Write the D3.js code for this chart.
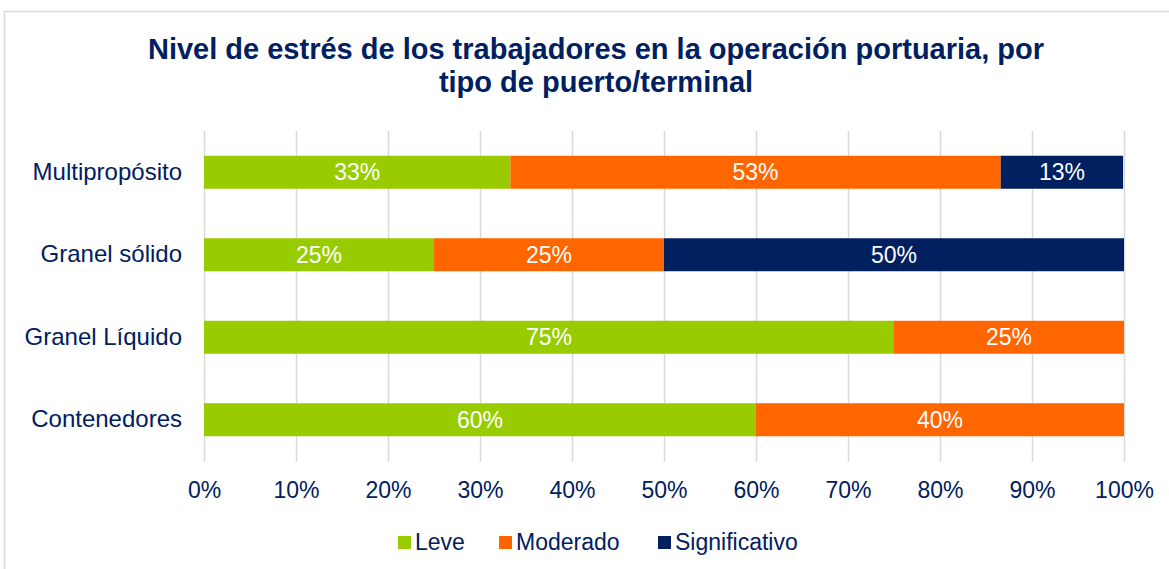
<!DOCTYPE html>
<html>
<head>
<meta charset="utf-8">
<script src="https://cdn.jsdelivr.net/npm/d3@7"></script>
<style>
  body { margin: 0; background: #fff; }
  svg { display: block; font-family: "Liberation Sans", Arial, sans-serif; }
</style>
</head>
<body>
<svg id="chart" width="1169" height="569"></svg>
<script>
const categories = ['Multipropósito', 'Granel sólido', 'Granel Líquido', 'Contenedores'];
const seriesNames = ['Leve', 'Moderado', 'Significativo'];
const leve = [33.3, 25, 75, 60];
const moderado = [53.3, 25, 25, 40];
const significativo = [13.3, 50, 0, 0];
const tickValues = [0, 10, 20, 30, 40, 50, 60, 70, 80, 90, 100];

const colors = ['#99cc00', '#ff6600', '#002060'];
const textColor = '#002060';
const fontFamily = '"Liberation Sans", Arial, sans-serif';

const svg = d3.select('#chart');

// chart frame
svg.append('rect')
  .attr('x', 4.5).attr('y', 11.5)
  .attr('width', 1170).attr('height', 570)
  .attr('fill', 'none').attr('stroke', '#d9d9d9').attr('stroke-width', 1.5);

// title
svg.append('text')
  .attr('x', 596).attr('y', 59)
  .attr('text-anchor', 'middle')
  .attr('font-size', 29).attr('font-weight', 'bold').attr('fill', textColor)
  .selectAll('tspan')
  .data(['Nivel de estrés de los trabajadores en la operación portuaria, por', 'tipo de puerto/terminal'])
  .join('tspan')
  .attr('x', 596)
  .attr('dy', (d, i) => (i === 0 ? 0 : 33))
  .text((d) => d);

const x = d3.scaleLinear().domain([0, 100]).range([204, 1124]);
const y = d3.scaleBand().domain(categories).range([131, 461]).paddingInner(0.6).paddingOuter(0.3);

// gridlines
svg.append('g')
  .selectAll('line')
  .data(tickValues)
  .join('line')
  .attr('x1', (d) => x(d) + 0.5).attr('x2', (d) => x(d) + 0.5)
  .attr('y1', 131).attr('y2', 462)
  .attr('stroke', '#d9d9d9').attr('stroke-width', 1.5);

// stacked data
const rows = categories.map((c, i) => ({
  cat: c, Leve: leve[i], Moderado: moderado[i], Significativo: significativo[i],
}));
const stacked = d3.stack().keys(seriesNames)(rows);

const layers = svg.append('g')
  .selectAll('g')
  .data(stacked)
  .join('g')
  .attr('fill', (d, i) => colors[i]);

layers.selectAll('rect')
  .data((d) => d.filter((s) => s[1] - s[0] > 0))
  .join('rect')
  .attr('x', (d) => x(d[0]))
  .attr('y', (d) => y(d.data.cat))
  .attr('width', (d) => x(d[1]) - x(d[0]))
  .attr('height', y.bandwidth());

layers.selectAll('text')
  .data((d) => d.filter((s) => s[1] - s[0] > 0))
  .join('text')
  .attr('x', (d) => (x(d[0]) + x(d[1])) / 2)
  .attr('y', (d) => y(d.data.cat) + y.bandwidth() / 2)
  .attr('dy', '0.35em')
  .attr('text-anchor', 'middle')
  .attr('font-size', 23).attr('fill', '#fff')
  .text((d) => `${Math.round(d[1] - d[0])}%`);

// y axis labels
const yAxis = svg.append('g')
  .attr('transform', 'translate(204,0)')
  .call(d3.axisLeft(y).tickSize(0).tickPadding(22));
yAxis.select('.domain').remove();
yAxis.selectAll('text')
  .attr('font-size', 24).attr('fill', textColor)
  .attr('font-family', fontFamily);

// x axis labels
const xAxis = svg.append('g')
  .attr('transform', 'translate(0,462)')
  .call(d3.axisBottom(x).tickValues(tickValues).tickSize(0).tickPadding(20).tickFormat((d) => `${d}%`));
xAxis.select('.domain').remove();
xAxis.selectAll('text')
  .attr('font-size', 23).attr('fill', textColor)
  .attr('font-family', fontFamily);

// legend
const legendItems = [
  { name: 'Leve', x: 398 },
  { name: 'Moderado', x: 499 },
  { name: 'Significativo', x: 658 },
];
const legend = svg.append('g')
  .selectAll('g')
  .data(legendItems)
  .join('g')
  .attr('transform', (d) => `translate(${d.x},542)`);
legend.append('rect')
  .attr('x', 0).attr('y', -6)
  .attr('width', 13).attr('height', 13)
  .attr('fill', (d, i) => colors[i]);
legend.append('text')
  .attr('x', 17).attr('dy', '0.35em')
  .attr('font-size', 23).attr('fill', textColor)
  .text((d) => d.name);
</script>
</body>
</html>
